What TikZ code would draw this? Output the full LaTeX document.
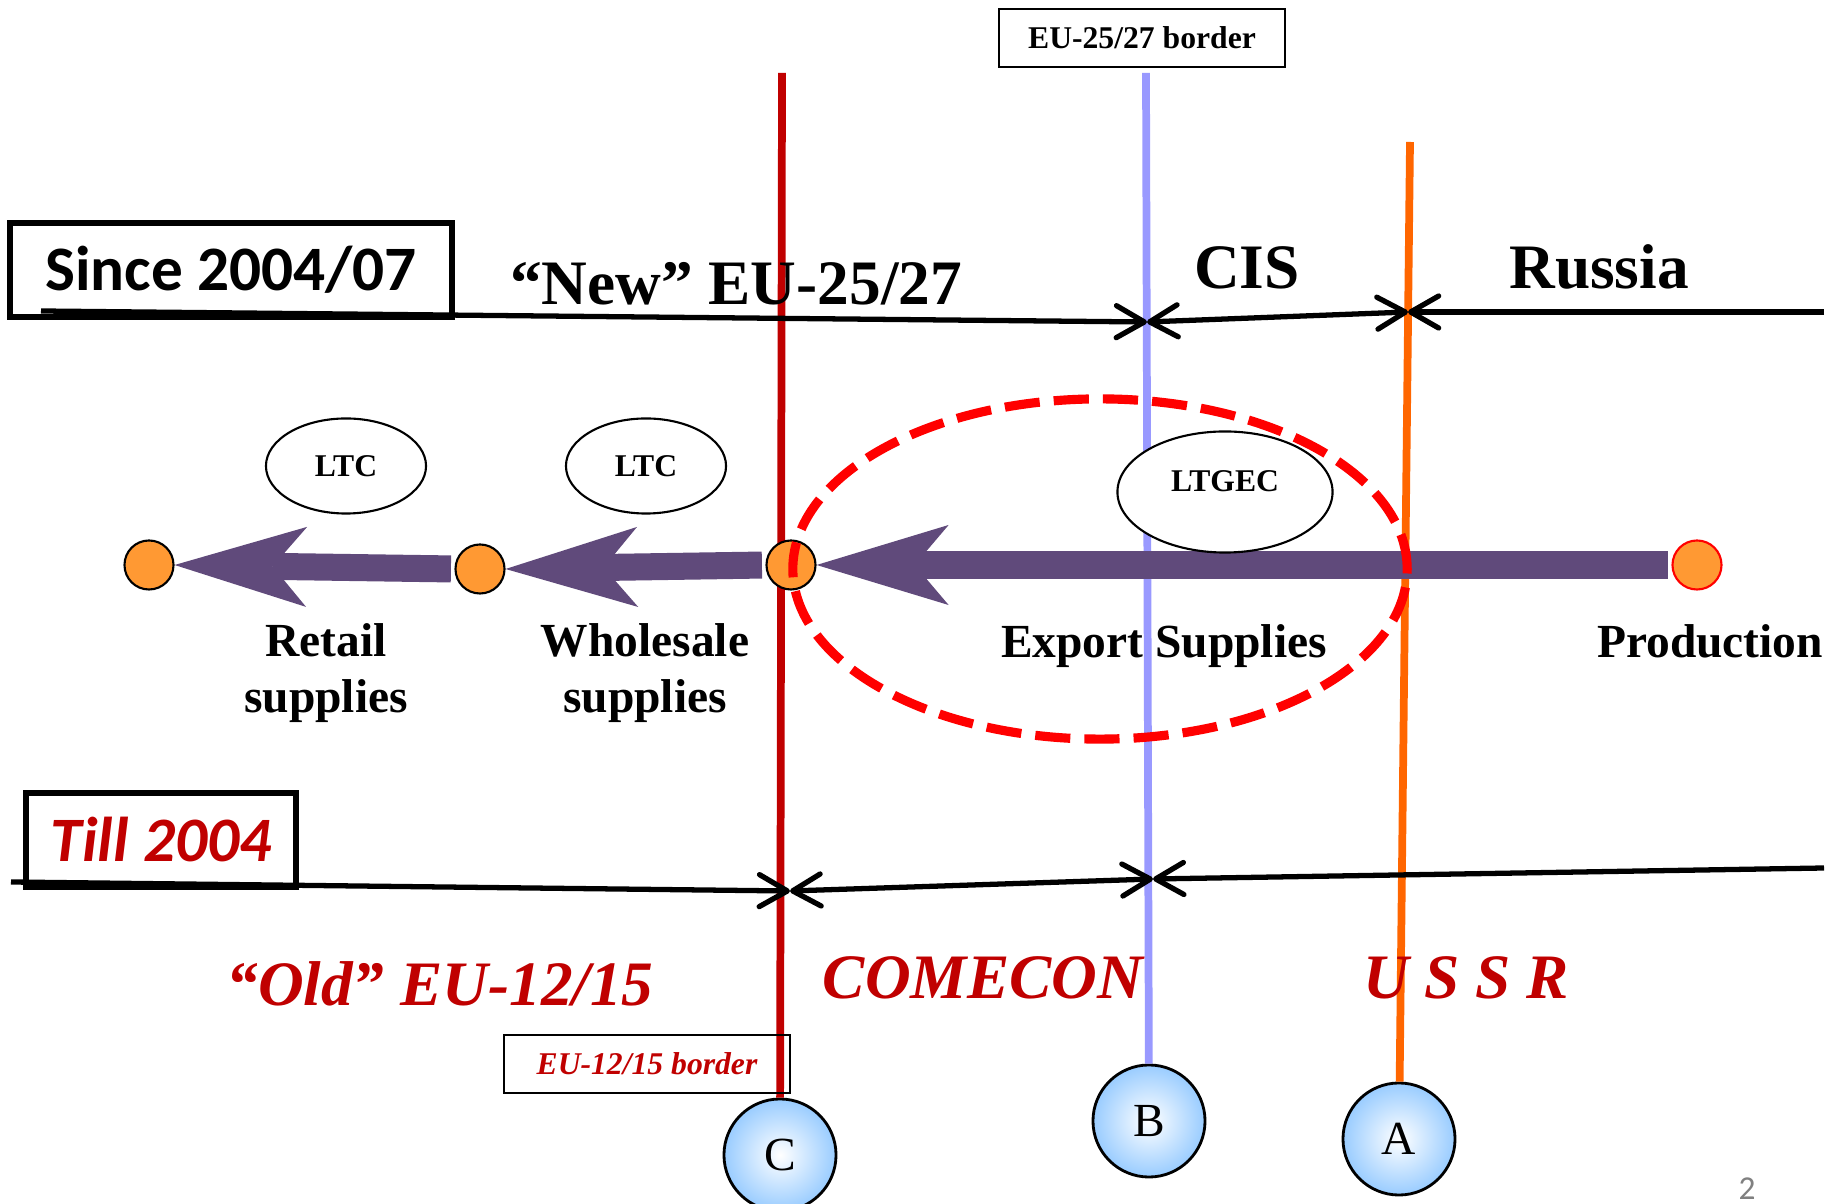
\documentclass[tikz,border=0pt]{standalone}
\usepackage{fontspec}
\setmainfont{Liberation Serif}
\newfontfamily\calibri{Carlito}
\usetikzlibrary{arrows.meta,shapes.geometric,positioning}

\definecolor{oldred}{RGB}{192,0,0}
\definecolor{borderblue}{RGB}{153,153,255}
\definecolor{ussrorange}{RGB}{255,102,0}
\definecolor{flowpurple}{RGB}{96,74,123}
\definecolor{dotorange}{RGB}{255,153,51}
\definecolor{ballblue}{RGB}{153,204,255}
\definecolor{pagegray}{RGB}{128,128,128}

\begin{document}
\begin{tikzpicture}[x=0.01cm, y=-0.01cm]

\tikzstyle{periodbox}=[rectangle, draw=black, line width=1.7pt, inner sep=0pt]
\tikzstyle{bordertag}=[rectangle, draw=black, line width=0.6pt, minimum width=2.85cm, minimum height=0.58cm, inner sep=0pt, font=\bfseries\fontsize{9}{11}\selectfont]
\tikzstyle{frontier}=[line width=2.2pt]
\tikzstyle{timeline}=[line width=1.5pt, >={Straight Barb[length=2.8mm, width=3.2mm, round]}]
\tikzstyle{flowarrow}=[draw=flowpurple, line width=0.27cm, shorten <=1pt, -{Stealth[length=13.2mm, width=8mm, inset=3.4mm, line width=0pt]}]
\tikzstyle{stopdot}=[circle, draw=black, line width=0.6pt, fill=dotorange, minimum size=0.49cm, inner sep=0pt]
\tikzstyle{hubellipse}=[ellipse, draw=black, line width=0.6pt, fill=white, inner sep=0pt, font=\bfseries\fontsize{9}{11}\selectfont]
\tikzstyle{pointball}=[circle, draw=black, line width=0.8pt, inner color=white, outer color=ballblue, minimum size=1.12cm, inner sep=0pt, font=\fontsize{13.5}{16}\selectfont]
\tikzstyle{bigtitle}=[font=\bfseries\fontsize{18}{21}\selectfont, anchor=base, inner sep=0pt]
\tikzstyle{oldtitle}=[anchor=base, inner sep=0pt, text=oldred, font=\bfseries\itshape\fontsize{18}{21}\selectfont]
\tikzstyle{flowlabel}=[font=\bfseries\fontsize{13.5}{16}\selectfont, align=center, anchor=base, inner sep=0pt]
\tikzstyle{ringmark}=[ellipse, draw=red, line width=2.6pt, dash pattern=on 10pt off 4pt, minimum width=6.14cm, minimum height=3.4cm, inner sep=0pt]

\useasboundingbox (0,0) rectangle (1839,1204);

% the three borders
\coordinate (cTop) at (782,73);
\coordinate (bTop) at (1146,73);
\coordinate (aTop) at (1410,142);
\node[pointball] (C) at (780,1155) {C};
\node[pointball] (B) at (1149,1121) {B};
\node[pointball] (A) at (1399,1139) {A};

\draw[frontier, oldred] (cTop) -- (C);
\draw[frontier, borderblue] (bTop) -- (B);
\draw[frontier, ussrorange] (aTop) -- (A);

% since 2004/07
\coordinate (tL) at (41,311);
\coordinate (tB) at (1147,322);
\coordinate (tA) at (1408,312);
\coordinate (tR) at (1824,312);
\draw[timeline, ->] (tL) -- (tB);
\draw[timeline, <->] (tB) -- (tA);
\draw[timeline, ->] (tR) -- (tA);

% till 2004
\coordinate (bL) at (11,882);
\coordinate (bC) at (790,891);
\coordinate (bB) at (1153,879);
\coordinate (bR) at (1824,868);
\draw[timeline, ->] (bL) -- (bC);
\draw[timeline, <->] (bC) -- (bB);
\draw[timeline, ->] (bR) -- (bB);

\node[bigtitle] (neweu) at (736,305) {“New” EU-25/27};
\node[bigtitle] (cis) at (1247,289) {CIS};
\node[bigtitle] (russia) at (1599,289) {Russia};
\node[oldtitle] (oldeu) at (440,1006) {“Old” EU-12/15};
\node[oldtitle] (comecon) at (983,999) {COMECON};
\node[oldtitle] (ussr) at (1466,999) {U S S R};

\node[bordertag] (newtag) at (1142,38) {EU-25/27 border};
\node[bordertag, text=oldred, font=\bfseries\itshape\fontsize{9}{11}\selectfont] (oldtag) at (647,1064) {EU-12/15 border};

\node[periodbox, minimum width=4.41cm, minimum height=0.94cm, font=\calibri\bfseries\fontsize{18}{21}\selectfont] (since) at (231,270) {Since 2004/07};
\node[periodbox, minimum width=2.7cm, minimum height=0.94cm, text=oldred, font=\calibri\bfseries\itshape\fontsize{18}{21}\selectfont] (till) at (161,840) {Till 2004};

% supply chain
\node[stopdot] (retail) at (149,565) {};
\node[stopdot] (wholesale) at (480,569) {};
\node[stopdot] (export) at (791,565) {};
\node[stopdot, draw=red] (production) at (1697,565) {};

\draw[flowarrow] (wholesale.west) -- (retail.east);
\draw[flowarrow] (export.west) -- (wholesale.east);
\draw[flowarrow] (production.west) -- (export.east);

\node[hubellipse, minimum width=1.6cm, minimum height=0.95cm] (ltcretail) at (346,466) {LTC};
\node[hubellipse, minimum width=1.6cm, minimum height=0.95cm] (ltcwholesale) at (646,466) {LTC};
\node[hubellipse, minimum width=2.15cm, minimum height=1.21cm] (ltgec) at (1225,492) {\raisebox{6pt}{LTGEC}};

\node[flowlabel] (retaillbl) at (326,713) {Retail\\supplies};
\node[flowlabel] (wholesalelbl) at (645,713) {Wholesale\\supplies};
\node[flowlabel] (exportlbl) at (1164,658) {Export Supplies};
\node[flowlabel] (productionlbl) at (1710,658) {Production};

\node[ringmark] (ring) at (1100,569) {};

\node[anchor=base, inner sep=0pt, text=pagegray, font=\calibri\fontsize{9.5}{11}\selectfont] (pageno) at (1747,1199) {2};

\end{tikzpicture}
\end{document}
